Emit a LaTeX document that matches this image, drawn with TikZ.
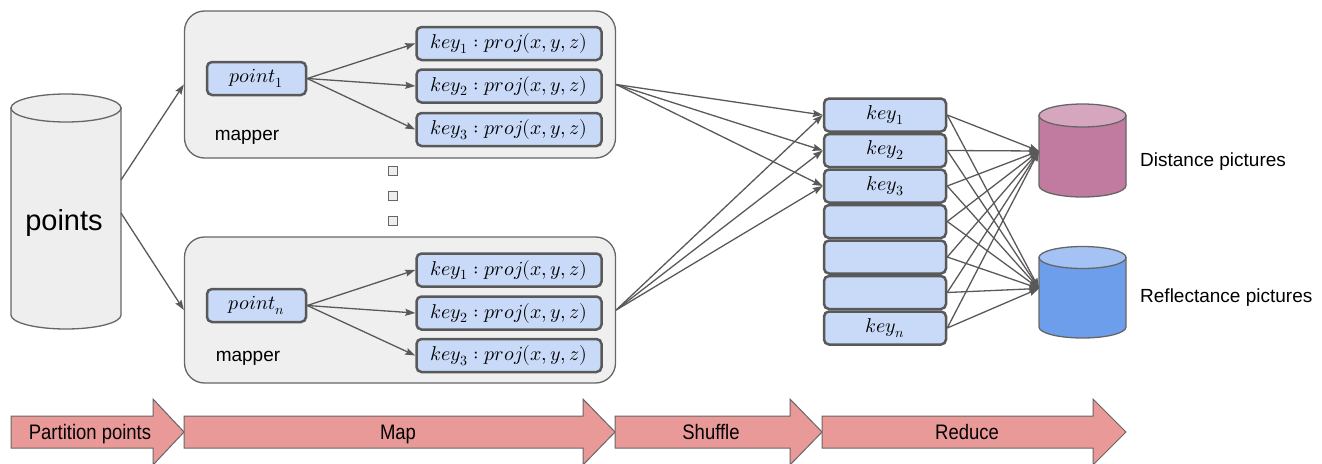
\documentclass[tikz,border=0pt]{standalone}
\usepackage{fontspec}
\usepackage{unicode-math}
\setmainfont{Liberation Sans}
\newfontfamily\bannerfont[FakeStretch=0.88]{Liberation Sans}
\usetikzlibrary{arrows.meta}

\definecolor{boxfill}{HTML}{C9DAF8}
\definecolor{boxline}{HTML}{595959}
\definecolor{panelfill}{HTML}{EFEFEF}
\definecolor{panelline}{HTML}{666666}
\definecolor{phasefill}{HTML}{EA9999}
\definecolor{distbody}{HTML}{C27BA0}
\definecolor{disttop}{HTML}{D5A6BD}
\definecolor{reflbody}{HTML}{6D9EEB}
\definecolor{refltop}{HTML}{A4C2F4}
\definecolor{storefill}{HTML}{EEEEEE}

\tikzset{
  panel/.style={draw=panelline, fill=panelfill, line width=1.3pt,
    rounded corners=20pt, inner sep=0pt},
  keybox/.style={draw=boxline, fill=boxfill, line width=2.5pt,
    rounded corners=5pt, inner sep=0pt, minimum height=33pt,
    font=\fontsize{20}{24}\selectfont},
  link/.style={draw=boxline, line width=1.3pt,
    -{Stealth[length=10pt,width=7pt,inset=1.5pt]}},
  storeline/.style={draw=panelline, line width=1.3pt},
  dotbox/.style={draw=panelline, fill=storefill, line width=1.5pt,
    minimum size=9pt, inner sep=0pt},
  phase/.style={draw=panelline, fill=phasefill, line width=1pt, line join=miter},
  phaselabel/.style={anchor=base, inner sep=0pt,
    font=\bannerfont\fontsize{21}{25}\selectfont},
  plainlabel/.style={inner sep=0pt, font=\fontsize{19}{23}\selectfont},
}

\begin{document}
\begin{tikzpicture}[x=1pt, y=1pt, yscale=-1]
\useasboundingbox (0,0) rectangle (1322,463);

% ---------- input store ----------
\path[storeline, fill=storefill] (11,108) -- (11,315)
  arc[start angle=180, end angle=0, x radius=55pt, y radius=14pt] -- (121,108) -- cycle;
\path[storeline, fill=storefill] (66,108) ellipse [x radius=55pt, y radius=14pt];
\node[anchor=base, inner sep=0pt, font=\fontsize{29}{33}\selectfont] (pts) at (64,230) {points};
\coordinate (ptsA) at (121,180);
\coordinate (ptsB) at (121,213);

% ---------- mappers ----------
\node[panel, minimum width=431pt, minimum height=147pt] (m1) at (400,84.5) {};
\node[panel, minimum width=431pt, minimum height=146pt] (m2) at (400,310) {};
\node[plainlabel, anchor=base] (ml1) at (247,140) {mapper};
\node[plainlabel, anchor=base] (ml2) at (248,361) {mapper};

\node[keybox, minimum width=99pt] (p1) at (256.5,78.5) {$point_1$};
\node[keybox, minimum width=99pt] (pn) at (256.5,305.5) {$point_n$};

\foreach \k/\y in {1/43.5, 2/86, 3/129.5}
  \node[keybox, minimum width=185pt] (a\k) at (509,\y) {$key_{\k} : proj(x,y,z)$};
\foreach \k/\y in {1/270, 2/313, 3/355.5}
  \node[keybox, minimum width=185pt] (b\k) at (509,\y) {$key_{\k} : proj(x,y,z)$};

% elision between the two mappers
\node[dotbox] (d1) at (393,171) {};
\node[dotbox] (d2) at (393,196) {};
\node[dotbox] (d3) at (393,221) {};

% ---------- key column ----------
\node[keybox, minimum width=122pt] (c1) at (885,115) {$key_1$};
\node[keybox, minimum width=122pt] (c2) at (885,150.5) {$key_2$};
\node[keybox, minimum width=122pt] (c3) at (885,186) {$key_3$};
\node[keybox, minimum width=122pt] (c4) at (885,221.5) {};
\node[keybox, minimum width=122pt] (c5) at (885,257) {};
\node[keybox, minimum width=122pt] (c6) at (885,292.5) {};
\node[keybox, minimum width=122pt] (c7) at (885,328) {$key_n$};

% ---------- output stores ----------
\path[storeline, fill=distbody] (1039,115.5) -- (1039,185.5)
  arc[start angle=180, end angle=0, x radius=43.5pt, y radius=11.5pt] -- (1126,115.5) -- cycle;
\path[storeline, fill=disttop] (1082.5,115.5) ellipse [x radius=43.5pt, y radius=11.5pt];
\path[storeline, fill=reflbody] (1039,257.5) -- (1039,327)
  arc[start angle=180, end angle=0, x radius=43.5pt, y radius=11pt] -- (1126,257.5) -- cycle;
\path[storeline, fill=refltop] (1082.5,257.5) ellipse [x radius=43.5pt, y radius=11pt];
\coordinate (dist) at (1039,151);
\coordinate (refl) at (1039,288.5);
\node[plainlabel, anchor=base west] (dl) at (1140,166) {Distance pictures};
\node[plainlabel, anchor=base west] (rl) at (1140,302) {Reflectance pictures};

% ---------- connectors ----------
\draw[link] (ptsA) -- (m1.west);
\draw[link] (ptsB) -- (m2.west);
\foreach \k in {1,2,3} {
  \draw[link] (p1.east) -- (a\k.west);
  \draw[link] (pn.east) -- (b\k.west);
  \draw[link] (m1.east) -- (c\k.west);
  \draw[link] (m2.east) -- (c\k.west);
}
\foreach \k in {1,...,7} {
  \draw[link] (c\k.east) -- (dist);
  \draw[link] (c\k.east) -- (refl);
}

% ---------- phase banner ----------
\path[phase] (11,416) -- (153,416) -- (153,399) -- (184,432) -- (153,465) -- (153,448) -- (11,448) -- cycle;
\path[phase] (184,416) -- (583,416) -- (583,399) -- (615,432) -- (583,465) -- (583,448) -- (184,448) -- cycle;
\path[phase] (615,416) -- (790,416) -- (790,399) -- (822,432) -- (790,465) -- (790,448) -- (615,448) -- cycle;
\path[phase] (822,416) -- (1093,416) -- (1093,399) -- (1126,432) -- (1093,465) -- (1093,448) -- (822,448) -- cycle;
\node[phaselabel] (ph1) at (90,439) {Partition points};
\node[phaselabel] (ph2) at (398,439) {Map};
\node[phaselabel] (ph3) at (711,439) {Shuffle};
\node[phaselabel] (ph4) at (967,439) {Reduce};
\end{tikzpicture}
\end{document}
